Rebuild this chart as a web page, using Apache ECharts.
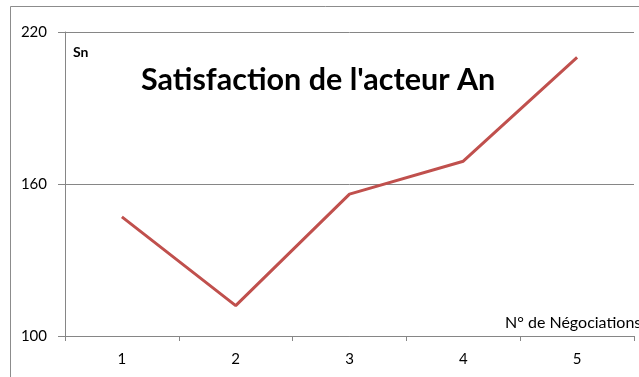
<!DOCTYPE html>
<html>
<head>
<meta charset="utf-8">
<script src="https://cdn.jsdelivr.net/npm/echarts@6/dist/echarts.min.js"></script>
<style>
  html, body { margin: 0; padding: 0; background: #ffffff; }
  #chart { width: 639px; height: 377px; }
</style>
</head>
<body>
<div id="chart"></div>
<script>
// Négociations numbers and the satisfaction score of actor An at each one
const negociations = ['1', '2', '3', '4', '5'];
const satisfaction = [147, 112, 156, 169, 210];
const yTicks = [100, 160, 220];

const chart = echarts.init(document.getElementById('chart'), null, { renderer: 'canvas' });

const axisGray = '#868686';
const textFont = 'Lato, "Open Sans", sans-serif';

chart.setOption({
  animation: false,
  backgroundColor: '#ffffff',
  title: {
    text: "Satisfaction de l'acteur An",
    left: 136,
    top: 60,
    textStyle: { fontFamily: textFont, fontWeight: 'bold', fontSize: 30.5, color: '#000000' }
  },
  graphic: [
    {
      type: 'rect',
      silent: true,
      z: -1,
      shape: { x: 10.5, y: 6.5, width: 700, height: 400 },
      style: { fill: 'none', stroke: '#8c8c8c', lineWidth: 1 }
    },
    {
      type: 'text',
      left: 73,
      top: 45,
      style: { text: 'Sn', font: 'bold 14px ' + textFont, fill: '#000000' }
    }
  ],
  grid: { left: 65, top: 32, right: 5, bottom: 41, containLabel: false, outerBoundsMode: 'none' },
  xAxis: {
    type: 'category',
    data: negociations,
    boundaryGap: true,
    name: 'N° de Négociations',
    nameLocation: 'end',
    nameGap: -129,
    nameTextStyle: {
      fontFamily: textFont, fontSize: 16, color: '#000000',
      align: 'left', verticalAlign: 'bottom', padding: [0, 0, 5, 0]
    },
    axisLine: { lineStyle: { color: axisGray, width: 1 } },
    axisTick: { show: true, length: 5, lineStyle: { color: axisGray } },
    axisLabel: { fontFamily: textFont, fontSize: 15, color: '#000000', margin: 16 },
    splitLine: { show: false }
  },
  yAxis: {
    type: 'value',
    min: yTicks[0],
    max: yTicks[yTicks.length - 1],
    interval: yTicks[1] - yTicks[0],
    axisLine: { show: true, lineStyle: { color: axisGray, width: 1 } },
    axisTick: { show: true, length: 7, lineStyle: { color: axisGray } },
    axisLabel: { fontFamily: textFont, fontSize: 15, color: '#000000', margin: 18 },
    splitLine: { show: true, lineStyle: { color: axisGray, width: 1 } }
  },
  series: [{
    type: 'line',
    data: satisfaction,
    symbol: 'none',
    lineStyle: { color: '#C0504D', width: 3 },
    itemStyle: { color: '#C0504D' }
  }]
});
</script>
</body>
</html>
